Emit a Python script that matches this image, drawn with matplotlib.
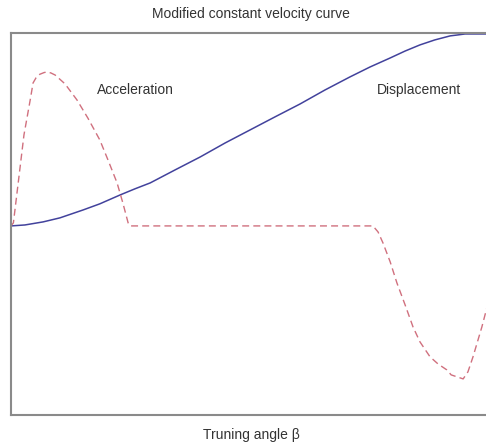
import matplotlib.pyplot as plt

# turning angle (normalised 0..1) and curve values
disp_x = [0.0, 0.029, 0.067, 0.102, 0.15, 0.185, 0.227, 0.258, 0.29, 0.342,
          0.394, 0.446, 0.498, 0.55, 0.602, 0.654, 0.706, 0.748, 0.79,
          0.821, 0.852, 0.883, 0.915, 0.931, 0.946, 1.0]
disp_y = [0.0, 0.005, 0.021, 0.042, 0.083, 0.115, 0.161, 0.193, 0.224, 0.292,
          0.359, 0.432, 0.5, 0.568, 0.635, 0.708, 0.776, 0.828, 0.875,
          0.911, 0.943, 0.969, 0.99, 0.995, 1.0, 1.0]

acc_x = [0.0, 0.005, 0.019, 0.027, 0.04, 0.046, 0.052, 0.06, 0.069, 0.075,
         0.083, 0.092, 0.1125, 0.1375, 0.16, 0.185, 0.202, 0.221, 0.233,
         0.244, 0.248, 0.754, 0.7646, 0.775, 0.79, 0.804, 0.821, 0.8375,
         0.852, 0.873, 0.8896, 0.908, 0.917, 0.942, 0.952, 0.9625, 0.981, 1.0]
acc_y = [0.0, 0.016, 0.307, 0.474, 0.656, 0.745, 0.771, 0.79, 0.799, 0.802,
         0.797, 0.786, 0.74, 0.656, 0.5625, 0.448, 0.344, 0.224, 0.12,
         0.016, 0.0, 0.0, -0.031, -0.089, -0.1875, -0.297, -0.411, -0.526,
         -0.604, -0.682, -0.719, -0.75, -0.776, -0.797, -0.76, -0.682,
         -0.526, -0.344]

W, H = 486, 444
fig = plt.figure(figsize=(W / 100, H / 100), dpi=100)
plt.rcParams['font.family'] = ['Liberation Sans', 'DejaVu Sans']

ax = fig.add_axes([11 / W, (H - 415) / H, (491 - 11) / W, (415 - 33) / H])
ax.plot(disp_x, disp_y, color='#42429c', lw=1.1)
ax.plot(acc_x, acc_y, color='#d0707e', lw=1.0, dashes=(5, 3))

ax.set_xlim(0, 1)
ax.set_ylim(-0.985, 1.005)
ax.set_xticks([])
ax.set_yticks([])
for s in ax.spines.values():
    s.set_color('#8a8a8a')
    s.set_linewidth(1.5)

ax.text(0.179, 0.708, 'Acceleration', fontsize=10, color='#333333', va='center')
ax.text(0.762, 0.708, 'Displacement', fontsize=10, color='#333333', va='center')

ax.set_title('Modified constant velocity curve', fontsize=10, color='#333333', pad=11)
ax.set_xlabel('Truning angle β', fontsize=10, color='#333333', labelpad=9)

fig.savefig('out.png', dpi=100)
